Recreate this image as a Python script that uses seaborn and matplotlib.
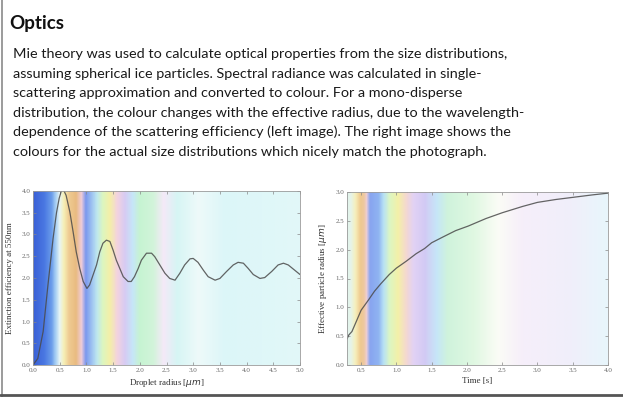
import numpy as np
import pandas as pd
import matplotlib.pyplot as plt
import seaborn as sns
from matplotlib.colors import LinearSegmentedColormap
from matplotlib.lines import Line2D

# Text of the panel
title = "Optics"
body_lines = [
    "Mie theory was used to calculate optical properties from the size distributions,",
    "assuming spherical ice particles. Spectral radiance was calculated in single-",
    "scattering approximation and converted to colour. For a mono-disperse",
    "distribution, the colour changes with the effective radius, due to the wavelength-",
    "dependence of the scattering efficiency (left image). The right image shows the",
    "colours for the actual size distributions which nicely match the photograph.",
]

# Left chart: extinction efficiency vs droplet radius
radius = [0.0, 0.09, 0.19, 0.28, 0.375, 0.44, 0.49, 0.53, 0.57, 0.62, 0.69, 0.75,
          0.81, 0.875, 0.94, 1.01, 1.06, 1.125, 1.19, 1.25, 1.31, 1.375, 1.44,
          1.5, 1.56, 1.625, 1.69, 1.78, 1.84, 1.9, 1.97, 2.03, 2.125, 2.22,
          2.28, 2.375, 2.47, 2.56, 2.66, 2.75, 2.84, 2.94, 3.0, 3.09, 3.19,
          3.28, 3.41, 3.5, 3.625, 3.75, 3.84, 3.94, 4.03, 4.125, 4.25, 4.34,
          4.47, 4.59, 4.69, 4.78, 4.9, 5.0]
extinction = [0.0, 0.15, 0.77, 1.84, 2.9, 3.5, 3.83, 4.0, 4.03, 3.9, 3.52, 3.07,
              2.6, 2.22, 1.92, 1.76, 1.84, 2.07, 2.3, 2.6, 2.8, 2.87, 2.84,
              2.64, 2.41, 2.22, 2.03, 1.92, 1.92, 2.03, 2.22, 2.41, 2.57, 2.57,
              2.49, 2.3, 2.11, 1.99, 1.95, 2.11, 2.3, 2.44, 2.45, 2.36, 2.18,
              2.03, 1.95, 1.99, 2.15, 2.3, 2.36, 2.34, 2.22, 2.08, 1.99, 2.01,
              2.15, 2.3, 2.34, 2.3, 2.18, 2.08]

# Right chart: effective particle radius vs time
time_s = [0.3, 0.325, 0.37, 0.43, 0.5, 0.6, 0.69, 0.78, 0.9, 1.0, 1.14, 1.28,
          1.4, 1.5, 1.66, 1.84, 2.02, 2.27, 2.5, 2.79, 3.0, 3.26, 3.52, 3.78, 4.0]
eff_radius = [0.45, 0.52, 0.58, 0.75, 0.95, 1.12, 1.28, 1.41, 1.57, 1.68, 1.8,
              1.93, 2.02, 2.12, 2.22, 2.33, 2.41, 2.54, 2.64, 2.75, 2.82, 2.87,
              2.91, 2.95, 2.98]

# Background colour bands (colour seen at each x position)
left_band_x = [0.0, 0.2, 0.33, 0.42, 0.49, 0.57, 0.66, 0.8, 0.9, 0.98, 1.12,
               1.2, 1.3, 1.43, 1.58, 1.72, 1.86, 2.0, 2.25, 2.45, 2.7, 3.1,
               3.6, 5.0]
left_band_c = ["#3a60d6", "#4a78e2", "#6a9cea", "#a8d0f4", "#e8f5f5", "#f6efb4",
               "#efcb92", "#e9bb80", "#f0ccd8", "#7c98ee", "#a8cff2", "#bfe8ee",
               "#dcf6c0", "#f4efa8", "#f3d2e0", "#d6cbf3", "#c6e6f8", "#c6f3d2",
               "#d2f4da", "#f4e9f8", "#d6f5f4", "#eefafa", "#dcf6f8", "#e2f8f8"]

right_band_x = [0.3, 0.35, 0.41, 0.48, 0.53, 0.57, 0.62, 0.74, 0.81, 0.9,
                1.02, 1.13, 1.24, 1.4, 1.57, 1.72, 2.1, 2.45, 2.8, 3.5, 4.0]
right_band_c = ["#e2f4ee", "#e6f4e8", "#f6f0bc", "#efc98e", "#eec8a0", "#f0d0d8",
                "#88a4f0", "#8fb4f2", "#b8e2f4", "#dcf6c4", "#f4f0a8", "#f4d8d0",
                "#e2d2f4", "#d2caf4", "#c6e6f8", "#cff3dc", "#e0f8e2", "#fbfcf6",
                "#f6eefa", "#f0effa", "#e8f6fc"]


def band_cmap(xs, cs):
    span = xs[-1] - xs[0]
    return LinearSegmentedColormap.from_list(
        "bands", [((x - xs[0]) / span, c) for x, c in zip(xs, cs)])


def style_axes(ax):
    for sp in ax.spines.values():
        sp.set_visible(True)
        sp.set_color("#9a9a9a")
        sp.set_linewidth(0.6)
    ax.tick_params(direction="in", top=True, right=True, length=2.5, width=0.5,
                   color="#888888", labelsize=5, labelcolor="#666666", pad=2)
    for lab in ax.get_xticklabels() + ax.get_yticklabels():
        lab.set_family("Liberation Serif")


sns.set_style("ticks")
plt.rcParams["font.family"] = ["Lato", "DejaVu Sans"]

fig = plt.figure(figsize=(6.23, 3.97), dpi=100)
fig.patch.set_facecolor("white")

fig.text(0.0145, 1 - 29 / 397, title, fontsize=13.5, fontweight="bold",
         color="#111111", va="baseline")
for i, line in enumerate(body_lines):
    fig.text(0.021, 1 - (58 + 19.6 * i) / 397, line, fontsize=10.4,
             color="#1a1a1a", va="baseline")

# left panel
ax1 = fig.add_axes([33 / 623, 32 / 397, 267 / 623, 174 / 397])
ax1.imshow(np.linspace(0, 1, 500)[None, :], aspect="auto",
           cmap=band_cmap(left_band_x, left_band_c),
           extent=[left_band_x[0], left_band_x[-1], 0, 4], zorder=0)
df1 = pd.DataFrame({"r": radius, "q": extinction})
sns.lineplot(data=df1, x="r", y="q", ax=ax1, color="#4a4a4a", lw=0.9,
             alpha=0.85, zorder=2)
ax1.set_xlim(0, 5)
ax1.set_ylim(0, 4)
ax1.set_xticks(np.arange(0, 5.01, 0.5))
ax1.set_yticks(np.arange(0, 4.01, 0.5))
ax1.set_xlabel("Droplet radius [$\\mu m$]", fontsize=6.5, family="Liberation Serif",
               color="#333333", labelpad=3)
ax1.set_ylabel("Extinction efficiency at 550nm", fontsize=6.5,
               family="Liberation Serif", color="#333333", labelpad=5)
style_axes(ax1)

# right panel
ax2 = fig.add_axes([347 / 623, 32 / 397, 261 / 623, 173 / 397])
ax2.imshow(np.linspace(0, 1, 500)[None, :], aspect="auto",
           cmap=band_cmap(right_band_x, right_band_c),
           extent=[right_band_x[0], right_band_x[-1], 0, 3], zorder=0)
df2 = pd.DataFrame({"t": time_s, "r": eff_radius})
sns.lineplot(data=df2, x="t", y="r", ax=ax2, color="#4a4a4a", lw=0.9,
             alpha=0.85, zorder=2)
ax2.set_xlim(0.3, 4.0)
ax2.set_ylim(0, 3)
ax2.set_xticks(np.arange(0.5, 4.01, 0.5))
ax2.set_yticks(np.arange(0, 3.01, 0.5))
ax2.set_xlabel("Time [s]", fontsize=6.5, family="Liberation Serif",
               color="#333333", labelpad=3)
ax2.set_ylabel("Effective particle radius [$\\mu m$]", fontsize=6.5,
               family="Liberation Serif", color="#333333", labelpad=5)
style_axes(ax2)

# panel frame: left and bottom edge
fig.add_artist(Line2D([1.5 / 623, 1.5 / 623], [0, 1], color="#8a8a8a", lw=1.2))
fig.add_artist(Line2D([0, 1], [2 / 397, 2 / 397], color="#555555", lw=2))

fig.savefig("out.png", dpi=100)
